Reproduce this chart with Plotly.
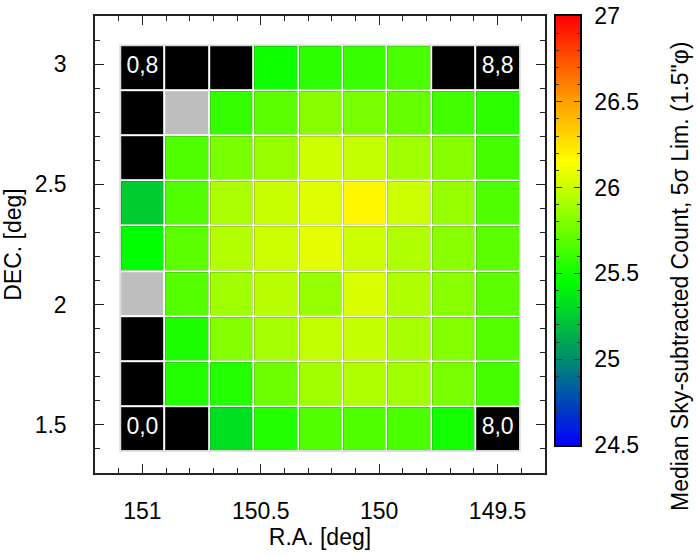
import numpy as np
import plotly.graph_objects as go

# ---- data ----
ra_centers = [151.0, 150.8125, 150.625, 150.4375, 150.25, 150.0625, 149.875, 149.6875, 149.5]
dec_centers = [1.485, 1.6725, 1.86, 2.0475, 2.235, 2.4225, 2.61, 2.7975, 2.985]

# rows bottom (DEC low) -> top; columns RA 151 -> 149.5 ; None = no data (black)
depth_row0 = [None, None, 25.32, 25.54, 25.67, 25.66, 25.65, 25.50, None]
depth_row1 = [None, 25.54, 25.55, 25.75, 25.89, 25.93, 25.89, 25.78, 25.64]
depth_row2 = [None, 25.53, 25.81, 25.90, 25.98, 25.99, 25.91, 25.81, 25.68]
depth_row3 = [None, 25.68, 25.89, 25.96, 25.86, 26.04, 25.93, 25.83, 25.70]
depth_row4 = [25.45, 25.70, 25.94, 26.01, 26.08, 26.01, 25.93, 25.83, 25.70]
depth_row5 = [25.25, 25.67, 25.92, 26.00, 26.06, 26.18, 26.01, 25.86, 25.66]
depth_row6 = [None, 25.66, 25.78, 25.86, 26.01, 25.99, 25.89, 25.82, 25.64]
depth_row7 = [None, None, 25.59, 25.70, 25.82, 25.78, 25.73, 25.63, 25.57]
depth_row8 = [None, None, None, 25.49, 25.57, 25.61, 25.65, None, None]
depth = [depth_row0, depth_row1, depth_row2, depth_row3, depth_row4,
         depth_row5, depth_row6, depth_row7, depth_row8]

# flagged (gray) cells as (column, row)
flagged_cells = [(1, 7), (0, 3)]

# corner labels (column, row, text)
corner_cols = [0, 8, 0, 8]
corner_rows = [8, 8, 0, 0]
corner_text = ["0,8", "8,8", "0,0", "8,0"]

x_tickvals = [151, 150.5, 150, 149.5]
x_ticktext = ["151", "150.5", "150", "149.5"]
y_tickvals = [1.5, 2, 2.5, 3]
y_ticktext = ["1.5", "2", "2.5", "3"]
cbar_tickvals = [24.5, 25, 25.5, 26, 26.5, 27]
cbar_ticktext = ["24.5", "25", "25.5", "26", "26.5", "27"]
zmin, zmax = 24.5, 27.0

colorscale = [
    [0.0, "rgb(0,0,255)"],
    [0.2, "rgb(0,140,110)"],
    [0.38, "rgb(0,255,0)"],
    [0.66, "rgb(255,255,0)"],
    [0.8, "rgb(255,160,0)"],
    [1.0, "rgb(255,0,0)"],
]

FONT = "Liberation Sans, Arial, Helvetica, sans-serif"
FS = 23

# background: black for every cell, gray for flagged
bg = [[0 for _ in ra_centers] for _ in dec_centers]
for c, r in flagged_cells:
    bg[r][c] = 1

fig = go.Figure()
fig.add_trace(go.Heatmap(
    x=ra_centers, y=dec_centers, z=bg, zmin=0, zmax=1,
    colorscale=[[0, "black"], [0.5, "black"], [0.5, "rgb(190,190,190)"], [1, "rgb(190,190,190)"]],
    showscale=False, xgap=2, ygap=2, hoverinfo="skip"))
fig.add_trace(go.Heatmap(
    x=ra_centers, y=dec_centers, z=depth, zmin=zmin, zmax=zmax,
    colorscale=colorscale, showscale=False, xgap=2, ygap=2))

fig.add_trace(go.Scatter(
    x=[ra_centers[c] for c in corner_cols], y=[dec_centers[r] for r in corner_rows],
    mode="text", text=corner_text, textfont=dict(color="white", size=FS, family=FONT),
    showlegend=False, hoverinfo="skip"))

# outer light border of the cell grid
dx = (ra_centers[0] - ra_centers[1]) / 2
dy = (dec_centers[1] - dec_centers[0]) / 2
fig.add_shape(type="rect", xref="x", yref="y",
              x0=ra_centers[0] + dx, x1=ra_centers[-1] - dx,
              y0=dec_centers[0] - dy, y1=dec_centers[-1] + dy,
              line=dict(color="rgb(215,215,215)", width=1.5))

# colour bar as a narrow heatmap subplot
nb = 300
edges = np.linspace(zmin, zmax, nb + 1)
cb_y = (edges[:-1] + edges[1:]) / 2
fig.add_trace(go.Heatmap(
    x=[0], y=cb_y, z=[[v] for v in cb_y], zmin=zmin, zmax=zmax,
    colorscale=colorscale, showscale=False, xaxis="x2", yaxis="y2", hoverinfo="skip"))

axis_common = dict(showline=True, linecolor="#222", linewidth=1.5, mirror="ticks",
                   ticks="inside", tickcolor="#222", showgrid=False, zeroline=False,
                   automargin=False,
                   tickfont=dict(family=FONT, size=FS, color="black"))

fig.update_layout(
    width=697, height=557,
    margin=dict(l=95, r=117, t=16, b=84, autoexpand=False),
    plot_bgcolor="white", paper_bgcolor="white",
    font=dict(family=FONT, size=FS, color="black"),
    showlegend=False,
    xaxis=dict(domain=[0, 450 / 485], range=[151.2, 149.3], tickvals=x_tickvals, ticktext=x_ticktext,
               ticklen=9, minor=dict(dtick=0.1, ticks="inside", ticklen=5, tickcolor="#222"),
               ticklabelstandoff=17,
               title=dict(text="R.A. [deg]", font=dict(family=FONT, size=FS, color="black"), standoff=2),
               **axis_common),
    yaxis=dict(range=[1.3, 3.2], tickvals=y_tickvals, ticktext=y_ticktext,
               ticklen=9, minor=dict(dtick=0.1, ticks="inside", ticklen=5, tickcolor="#222"),
               ticklabelstandoff=22,
               title=dict(text="DEC. [deg]", font=dict(family=FONT, size=FS, color="black"), standoff=8),
               **axis_common),
    xaxis2=dict(domain=[(556 - 95) / 485, 1], range=[-0.5, 0.5], anchor="y2",
                showline=True, linecolor="black", linewidth=1.5, mirror=True, automargin=False,
                showticklabels=False, ticks="", showgrid=False, zeroline=False),
    yaxis2=dict(domain=[(473 - 445) / 457, 1], range=[zmin, zmax], anchor="x2", side="right",
                tickvals=cbar_tickvals, ticktext=cbar_ticktext, automargin=False,
                showline=True, linecolor="black", linewidth=1.5, mirror="ticks",
                ticks="inside", ticklen=6, tickcolor="#333",
                minor=dict(dtick=0.1, ticks="inside", ticklen=3, tickcolor="#333"),
                ticklabelstandoff=8, showgrid=False, zeroline=False,
                tickfont=dict(family=FONT, size=FS, color="black")),
)

fig.add_annotation(
    text="Median Sky-subtracted Count, 5\u03c3 Lim. (1.5\"\u03c6)",
    xref="paper", yref="paper", x=(680 - 95) / 485, y=(473 - 277) / 457,
    xanchor="center", yanchor="middle", textangle=-90, showarrow=False,
    font=dict(family=FONT, size=FS, color="black"))

fig.write_html("out.html")
